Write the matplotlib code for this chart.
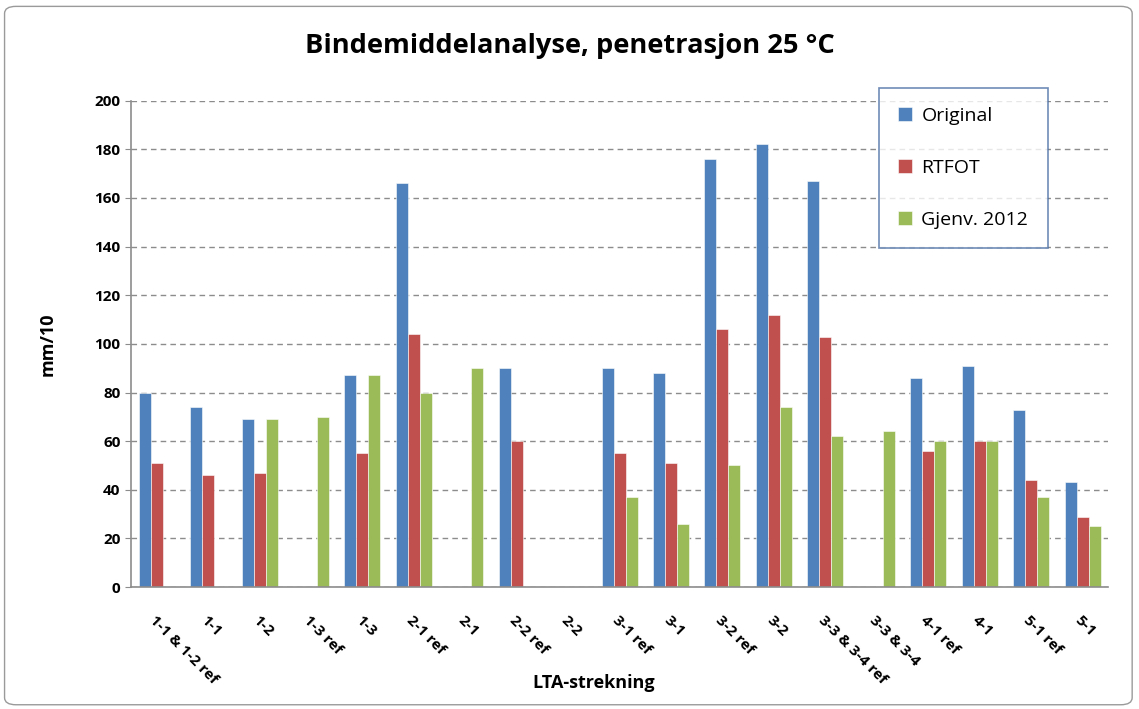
import numpy as np
import matplotlib
matplotlib.use("Agg")
import matplotlib.pyplot as plt
from matplotlib.patches import FancyBboxPatch

plt.rcParams["font.family"] = ["Open Sans", "DejaVu Sans"]

categories = [
    "1-1 & 1-2 ref", "1-1", "1-2", "1-3 ref", "1-3", "2-1 ref", "2-1",
    "2-2 ref", "2-2", "3-1 ref", "3-1", "3-2 ref", "3-2", "3-3 & 3-4 ref",
    "3-3 & 3-4", "4-1 ref", "4-1", "5-1 ref", "5-1",
]
nan = np.nan
original = [80, 74, 69, nan, 87, 166, nan, 90, nan, 90, 88, 176, 182, 167, nan, 86, 91, 73, 43]
rtfot = [51, 46, 47, nan, 55, 104, nan, 60, nan, 55, 51, 106, 112, 103, nan, 56, 60, 44, 29]
gjenv = [nan, nan, 69, 70, 87, 80, 90, nan, nan, 37, 26, 50, 74, 62, 64, 60, 60, 37, 25]

series = [
    ("Original", original, "#4F81BD"),
    ("RTFOT", rtfot, "#C0504D"),
    ("Gjenv. 2012", gjenv, "#9BBB59"),
]

fig = plt.figure(figsize=(11.39, 7.09), dpi=100)
ax = fig.add_axes([0.115, 0.172, 0.858, 0.686])

x = np.arange(len(categories))
width = 0.7 / 3
for k, (name, vals, col) in enumerate(series):
    ax.bar(x + (k - 1) * width, vals, width, color=col, label=name,
           edgecolor="white", linewidth=0.4)

ax.set_xlim(-0.5, len(categories) - 0.5)
ax.set_ylim(0, 200)
ax.set_yticks(range(0, 201, 20))
ax.yaxis.grid(True, linestyle=(0, (4, 3)), color="#8c8c8c", linewidth=1)
ax.set_axisbelow(True)
for s in ("top", "right"):
    ax.spines[s].set_visible(False)
for s in ("left", "bottom"):
    ax.spines[s].set_color("#8c8c8c")
    ax.spines[s].set_linewidth(1.2)

ax.set_xticks(x)
ax.set_xticklabels(categories, rotation=-45, ha="left", va="top",
                   rotation_mode="anchor", fontsize=11, fontweight="bold")
ax.tick_params(axis="x", length=0, pad=19)
ax.tick_params(axis="y", length=4, color="#8c8c8c", labelsize=11)
for lbl in ax.get_yticklabels():
    lbl.set_fontweight("bold")

ax.set_ylabel("mm/10", fontsize=13, fontweight="bold", labelpad=27)
fig.text(0.521, 0.036, "LTA-strekning", ha="center", va="center",
         fontsize=13, fontweight="bold")
fig.text(0.5, 0.935, "Bindemiddelanalyse, penetrasjon 25 °C",
         ha="center", va="center", fontsize=19.6, fontweight="bold")

leg = ax.legend(loc="upper left", bbox_to_anchor=(0.765, 1.027), fontsize=14,
                frameon=True, fancybox=False, handlelength=0.7,
                handleheight=0.7, labelspacing=1.75, borderpad=1.0,
                handletextpad=0.5, borderaxespad=0)
leg.get_frame().set_edgecolor("#4a6fa5")
leg.get_frame().set_linewidth(1.2)

fig.patches.append(FancyBboxPatch((0.004, 0.006), 0.99, 0.985,
                                  boxstyle="round,pad=0,rounding_size=0.01",
                                  transform=fig.transFigure, fill=False,
                                  edgecolor="#9a9a9a", linewidth=1))

fig.savefig("out.png", dpi=100)
